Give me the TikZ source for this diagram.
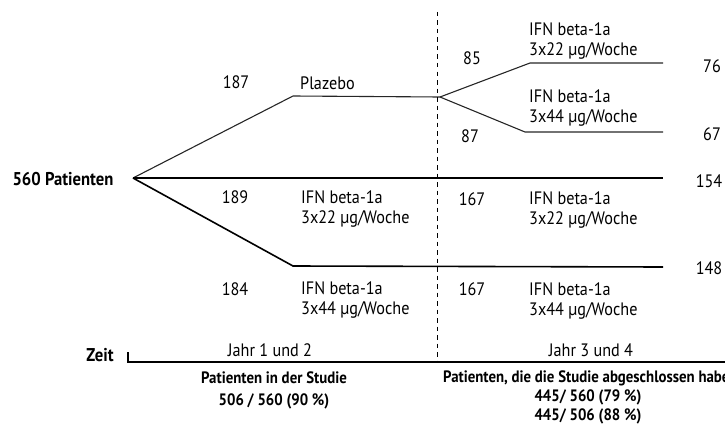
\documentclass[tikz,border=0pt]{standalone}
\usepackage{fontspec}
\setmainfont{PT Sans}[FakeStretch=0.9]
\begin{document}
\begin{tikzpicture}[x=1pt,y=-1pt,
  lbl/.style={inner sep=0pt,font=\fontsize{18}{20.5}\selectfont},
  lblw/.style={lbl,anchor=west,align=left},
  bld/.style={inner sep=0pt,font=\fontsize{18.5}{20}\selectfont\bfseries},
  sml/.style={inner sep=0pt,font=\fontsize{16.5}{19}\selectfont\bfseries},
  thinln/.style={line width=1.1pt,black!85},
  midln/.style={line width=1.6pt},
  thickln/.style={line width=2.4pt},
  dashln/.style={line width=0.9pt,dash pattern=on 4.5pt off 4pt},
  axisln/.style={line width=1.2pt}]
\useasboundingbox (0,0) rectangle (725,428);
% coordinates
\coordinate (O) at (133,178);
\coordinate (P1) at (293,96);
\coordinate (P2) at (440,97);
\coordinate (A1) at (530,63);
\coordinate (A2) at (663,63);
\coordinate (B1) at (525,132);
\coordinate (B2) at (663,132);
\coordinate (M) at (663,178);
\coordinate (L1) at (293,266);
\coordinate (L2) at (663,267);
\coordinate (D1) at (437,12);
\coordinate (D2) at (437,362);
\coordinate (T1) at (128,352);
\coordinate (T2) at (128,362);
\coordinate (T3) at (725,362);
% lines
\draw[thinln] (O) -- (P1) -- (P2);
\draw[thinln] (P2) -- (A1) -- (A2);
\draw[thinln] (P2) -- (B1) -- (B2);
\draw[thickln] (O) -- (M);
\draw[midln] (O) -- (L1) -- (L2);
\draw[dashln] (D1) -- (D2);
\draw[axisln] (T1) -- (T2) -- (T3);
% labels
\node[bld] (pat) at (63,179) {560 Patienten};
\node[lbl] (n187) at (236,82) {187};
\node[lblw] (plaz) at (300,83) {Plazebo};
\node[lbl] (n189) at (235,197) {189};
\node[lblw] (ifnA) at (301,209) {IFN beta-1a\\3x22 µg/Woche};
\node[lbl] (n184) at (235,289) {184};
\node[lblw] (ifnB) at (301,300) {IFN beta-1a\\3x44 µg/Woche};
\node[lbl] (n85) at (472,58) {85};
\node[lbl] (n87) at (470,136) {87};
\node[lblw] (ifnC) at (529,41) {IFN beta-1a\\3x22 µg/Woche};
\node[lblw] (ifnD) at (529,108) {IFN beta-1a\\3x44 µg/Woche};
\node[lbl] (n76) at (712,66) {76};
\node[lbl] (n67) at (712,134) {67};
\node[lbl] (n154) at (709,181) {154};
\node[lbl] (n148) at (709,268) {148};
\node[lbl] (n167a) at (472,199) {167};
\node[lblw] (ifnE) at (529,210) {IFN beta-1a\\3x22 µg/Woche};
\node[lbl] (n167b) at (472,289) {167};
\node[lblw] (ifnF) at (529,301) {IFN beta-1a\\3x44 µg/Woche};
\node[bld] (zeit) at (100,355) {Zeit};
\node[lbl] (j12) at (270,350) {Jahr 1 und 2};
\node[lbl] (j34) at (591,350) {Jahr 3 und 4};
\node[sml] (pst) at (274,378) {Patienten in der Studie};
\node[sml] (r1) at (274,401) {506 / 560 (90 \%)};
\node[sml,anchor=west] (pab) at (443,378) {Patienten, die die Studie abgeschlossen haben};
\node[sml] (r2) at (588,397) {445/ 560 (79 \%)};
\node[sml] (r3) at (588,416) {445/ 506 (88 \%)};
\end{tikzpicture}
\end{document}
